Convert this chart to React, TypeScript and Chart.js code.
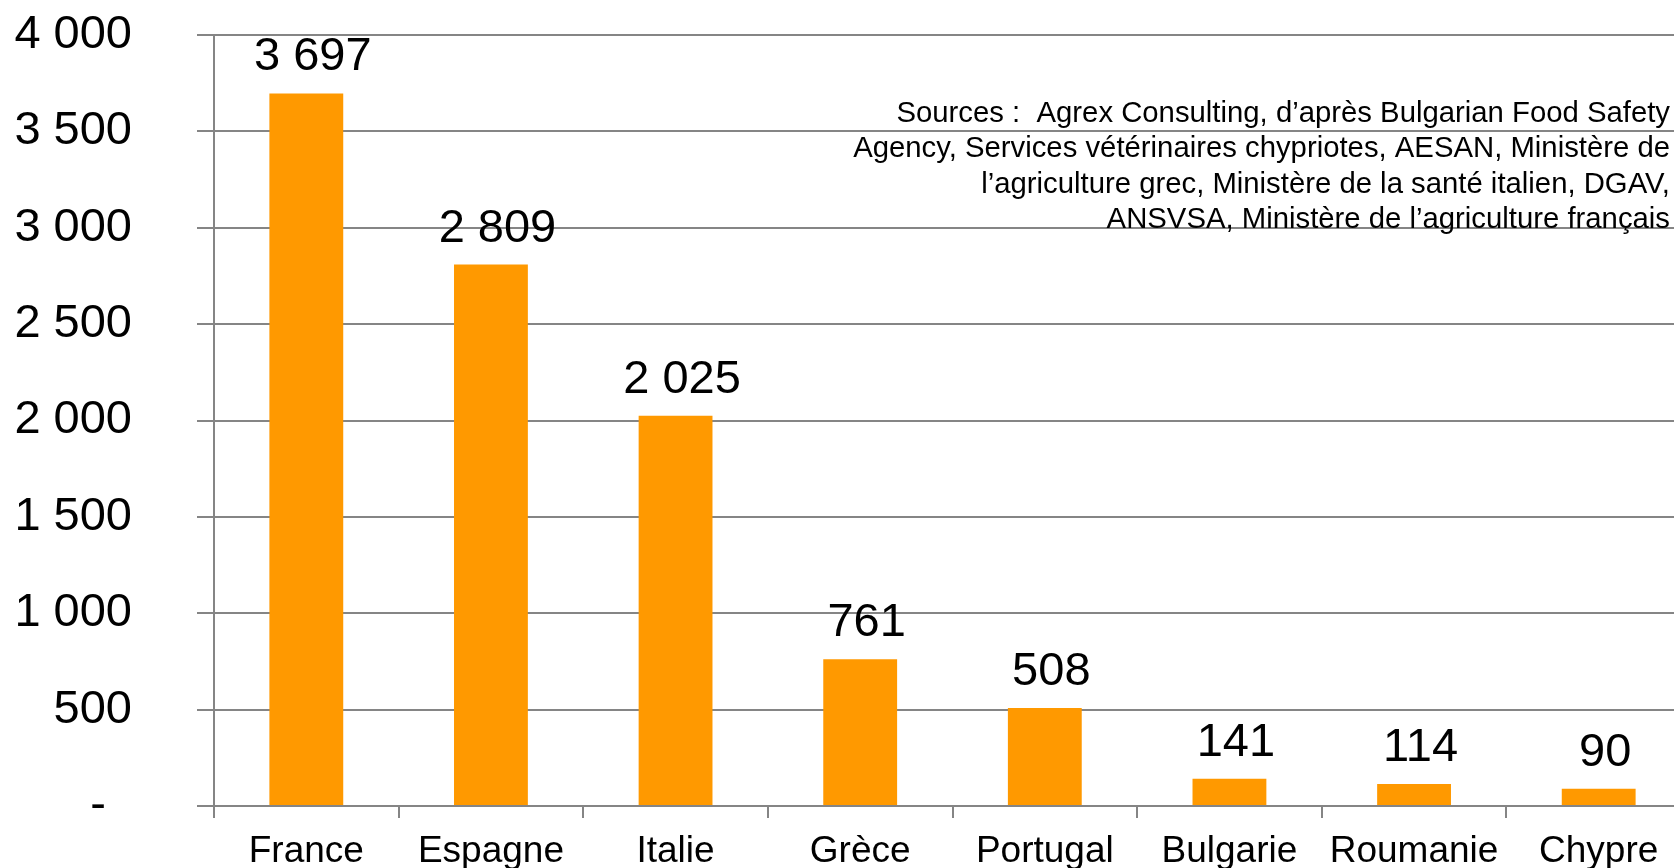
import React, { useEffect, useRef } from "react";
import { Chart, registerables } from "chart.js";

Chart.register(...registerables);

const categories = ["France", "Espagne", "Italie", "Grèce", "Portugal", "Bulgarie", "Roumanie", "Chypre"];
const values = [3697, 2809, 2025, 761, 508, 141, 114, 90];
const yTickValues = [0, 500, 1000, 1500, 2000, 2500, 3000, 3500, 4000];
const sourceLines = [
  "Sources :  Agrex Consulting, d\u2019après Bulgarian Food Safety",
  "Agency, Services vétérinaires chypriotes, AESAN, Ministère de",
  "l\u2019agriculture grec, Ministère de la santé italien, DGAV,",
  "ANSVSA, Ministère de l\u2019agriculture français",
];

const FONT = "'Liberation Sans', Arial, Helvetica, sans-serif";
const GRID = "#858585";
const BAR = "#FF9900";

function fmt(v: number): string {
  return String(Math.round(v)).replace(/\B(?=(\d{3})+(?!\d))/g, " ");
}

const labelsPlugin = {
  id: "barLabels",
  afterDatasetsDraw(chart: any) {
    const ctx = chart.ctx;
    const meta = chart.getDatasetMeta(0);
    ctx.save();
    ctx.fillStyle = "#000";
    ctx.font = `47px ${FONT}`;
    ctx.textAlign = "center";
    ctx.textBaseline = "alphabetic";
    meta.data.forEach((bar: any, i: number) => {
      ctx.fillText(fmt(values[i]), bar.x + 6.5, bar.y - 23);
    });
    ctx.restore();
  },
  afterDraw(chart: any) {
    const ctx = chart.ctx;
    ctx.save();
    ctx.fillStyle = "#000";
    ctx.font = `29.3px ${FONT}`;
    ctx.textAlign = "right";
    ctx.textBaseline = "alphabetic";
    sourceLines.forEach((line, i) => {
      ctx.fillText(line, 1670, 122 + i * 35.3);
    });
    ctx.restore();
  },
};

export default function App() {
  const ref = useRef<HTMLCanvasElement | null>(null);
  useEffect(() => {
    if (!ref.current) return;
    const chart = new Chart(ref.current, {
      type: "bar",
      data: {
        labels: categories,
        datasets: [
          {
            data: values,
            backgroundColor: BAR,
            borderWidth: 0,
            categoryPercentage: 1,
            barPercentage: 0.4,
          },
        ],
      },
      options: {
        responsive: false,
        animation: false,
        devicePixelRatio: 1,
        layout: { padding: { top: 35, right: 9, left: 0, bottom: 0 } },
        plugins: { legend: { display: false }, tooltip: { enabled: false } },
        scales: {
          x: {
            grid: {
              display: true,
              drawOnChartArea: false,
              drawTicks: true,
              tickLength: 12,
              color: GRID,
              lineWidth: 2,
              offset: true,
            },
            border: { display: true, color: GRID, width: 2 },
            ticks: {
              color: "#000",
              font: { family: FONT, size: 37, lineHeight: 1.2 },
              padding: 12,
              maxRotation: 0,
              autoSkip: false,
            },
            afterFit(scale: any) {
              scale.height = 62;
            },
          },
          y: {
            min: 0,
            max: 4000,
            afterBuildTicks(scale: any) {
              scale.ticks = yTickValues.map((v) => ({ value: v }));
            },
            grid: {
              color: GRID,
              lineWidth: 2,
              drawTicks: true,
              tickLength: 17,
            },
            border: { display: true, color: GRID, width: 2 },
            ticks: {
              color: "#000",
              font: { family: FONT, size: 47, lineHeight: 0.2 },
              padding: 65,
              callback: (v: any) => (Number(v) === 0 ? "-  " : fmt(Number(v))),
            },
            afterFit(scale: any) {
              scale.width = 214;
              scale.paddingTop = 0;
              scale.paddingBottom = 0;
            },
          },
        },
      },
      plugins: [labelsPlugin],
    });
    return () => chart.destroy();
  }, []);

  return (
    <div
      style={{
        position: "fixed",
        left: 0,
        top: 0,
        width: 1674,
        height: 868,
        overflow: "hidden",
        background: "#fff",
      }}
    >
      <canvas ref={ref} width={1700} height={868} style={{ display: "block" }} />
    </div>
  );
}
